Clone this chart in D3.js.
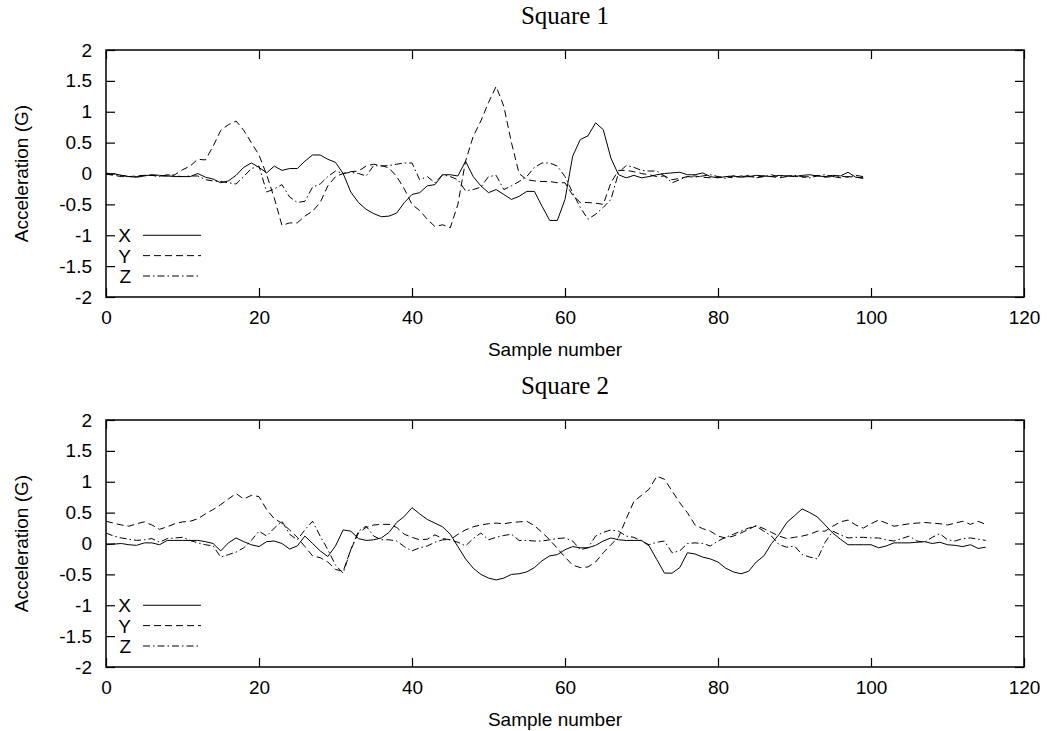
<!DOCTYPE html>
<html>
<head>
<meta charset="utf-8">
<script src="https://cdn.jsdelivr.net/npm/d3@7"></script>
<style>
  body { margin: 0; background: #fff; }
  .tick text { font-family: "Liberation Sans", Arial, sans-serif; font-size: 19px; fill: #000; }
  .tick line { stroke: #000; stroke-width: 1.2; }
  .lbl { font-family: "Liberation Sans", Arial, sans-serif; font-size: 19px; fill: #000; }
  .ttl { font-family: "Liberation Serif", "Times New Roman", serif; font-size: 25px; fill: #000; }
</style>
</head>
<body>
<div id="chart"></div>
<script>
// Square 1 (samples 0..99)
var sq1X = [-0.02, 0.0, -0.03, -0.05, -0.06, -0.04, -0.02, -0.03, -0.04, -0.05,
  -0.05, -0.05, 0.0, -0.06, -0.09, -0.15, -0.12, -0.03, 0.1, 0.17,
  0.1, 0.01, 0.12, 0.05, 0.08, 0.08, 0.2, 0.3, 0.3, 0.23,
  0.18, 0.0, -0.3, -0.47, -0.58, -0.65, -0.7, -0.69, -0.64, -0.47,
  -0.34, -0.31, -0.2, -0.18, -0.02, -0.02, -0.04, 0.2, -0.05, -0.2,
  -0.31, -0.26, -0.34, -0.42, -0.37, -0.29, -0.29, -0.53, -0.76, -0.76,
  -0.42, 0.28, 0.55, 0.61, 0.82, 0.71, 0.25, -0.02, -0.07, -0.03,
  -0.07, -0.05, -0.02, 0.0, 0.01, 0.02, -0.02, -0.02, 0.01, -0.05,
  -0.07, -0.05, -0.04, -0.06, -0.05, -0.03, -0.04, -0.05, -0.03, -0.04,
  -0.05, -0.03, -0.02, -0.04, -0.05, -0.03, -0.04, 0.02, -0.06, -0.07];
var sq1Y = [-0.01, -0.03, -0.05, -0.05, -0.04, -0.03, -0.03, -0.04, -0.04, -0.02,
  0.06, 0.12, 0.23, 0.22, 0.44, 0.7, 0.79, 0.85, 0.7, 0.5,
  0.3, -0.02, -0.4, -0.84, -0.8, -0.8, -0.69, -0.61, -0.47, -0.2,
  -0.05, 0.0, 0.03, 0.04, 0.12, 0.15, 0.13, 0.09, -0.05, -0.25,
  -0.5, -0.6, -0.74, -0.86, -0.83, -0.88, -0.5, 0.2, 0.6, 0.85,
  1.15, 1.41, 1.09, 0.5, 0.0, -0.1, -0.12, -0.13, -0.13, -0.15,
  -0.15, -0.35, -0.47, -0.47, -0.48, -0.5, -0.15, 0.05, 0.05, 0.03,
  0.0, -0.02, -0.05, -0.04, -0.1, -0.08, -0.05, -0.04, -0.06, -0.07,
  -0.06, -0.05, -0.07, -0.04, -0.05, -0.06, -0.04, -0.05, -0.07, -0.05,
  -0.04, -0.06, -0.05, -0.03, -0.06, -0.05, -0.07, -0.05, -0.06, -0.08];
var sq1Z = [0.01, -0.02, -0.03, -0.05, -0.05, -0.03, -0.03, -0.05, -0.02, -0.04,
  -0.05, -0.04, -0.04, -0.1, -0.12, -0.13, -0.15, -0.17, -0.05, 0.08,
  0.12, -0.3, -0.25, -0.18, -0.38, -0.47, -0.45, -0.22, -0.17, -0.05,
  0.04, 0.0, 0.02, 0.0, -0.04, 0.13, 0.12, 0.13, 0.15, 0.17,
  0.17, -0.1, -0.05, -0.15, -0.02, -0.05, -0.1, -0.28, -0.26, -0.22,
  -0.05, -0.03, -0.26, -0.2, -0.13, -0.05, 0.1, 0.17, 0.17, 0.12,
  -0.05, -0.31, -0.55, -0.74, -0.66, -0.55, -0.42, 0.01, 0.13, 0.1,
  0.05, 0.04, 0.04, -0.04, -0.15, -0.1, -0.05, -0.06, -0.04, -0.02,
  -0.05, -0.08, -0.04, -0.06, -0.03, -0.07, -0.05, -0.02, -0.06, -0.04,
  -0.03, -0.05, -0.07, -0.04, -0.02, -0.05, -0.04, -0.06, -0.03, -0.05];

// Square 2 (samples 0..115)
var sq2X = [-0.02, -0.01, 0.0, -0.02, -0.03, 0.01, 0.01, -0.02, 0.05, 0.05,
  0.05, 0.05, 0.05, 0.03, 0.0, -0.12, 0.01, 0.09, 0.03, -0.02,
  -0.05, 0.03, 0.04, 0.0, -0.09, -0.04, 0.12, 0.0, -0.12, -0.21,
  -0.04, 0.22, 0.2, 0.08, 0.05, 0.06, 0.09, 0.18, 0.34, 0.44,
  0.58, 0.48, 0.39, 0.33, 0.27, 0.15, -0.05, -0.25, -0.4, -0.5,
  -0.56, -0.59, -0.56, -0.5, -0.49, -0.46, -0.39, -0.28, -0.2, -0.18,
  -0.1, -0.05, -0.07, -0.07, -0.03, 0.04, 0.09, 0.06, 0.05, 0.05,
  0.05, -0.04, -0.26, -0.48, -0.48, -0.39, -0.15, -0.17, -0.22, -0.25,
  -0.3, -0.4, -0.46, -0.49, -0.45, -0.3, -0.2, 0.0, 0.15, 0.34,
  0.45, 0.56, 0.5, 0.43, 0.3, 0.17, 0.07, -0.02, -0.02, -0.02,
  -0.02, -0.07, -0.04, 0.01, 0.01, 0.01, 0.02, 0.03, 0.0, 0.02,
  -0.02, -0.03, -0.05, -0.02, -0.08, -0.06];
var sq2Y = [0.36, 0.33, 0.3, 0.28, 0.32, 0.35, 0.3, 0.23, 0.27, 0.32,
  0.35, 0.36, 0.4, 0.48, 0.55, 0.63, 0.72, 0.81, 0.72, 0.78,
  0.76, 0.55, 0.4, 0.33, 0.22, 0.1, -0.05, -0.2, -0.23, -0.3,
  -0.42, -0.45, -0.1, 0.17, 0.26, 0.3, 0.31, 0.31, 0.26, 0.15,
  0.1, 0.06, 0.07, 0.14, 0.08, 0.06, 0.15, 0.22, 0.27, 0.3,
  0.32, 0.33, 0.32, 0.34, 0.35, 0.36, 0.29, 0.18, 0.06, -0.08,
  -0.22, -0.35, -0.39, -0.38, -0.3, -0.15, -0.02, 0.1, 0.4, 0.68,
  0.78, 0.88, 1.09, 1.04, 0.85, 0.66, 0.5, 0.3, 0.24, 0.2,
  0.12, 0.09, 0.12, 0.17, 0.23, 0.29, 0.24, 0.18, 0.12, 0.08,
  0.1, 0.12, 0.15, 0.2, 0.2, 0.28, 0.35, 0.38, 0.3, 0.25,
  0.32, 0.38, 0.33, 0.28, 0.3, 0.32, 0.33, 0.34, 0.33, 0.32,
  0.3, 0.33, 0.36, 0.31, 0.36, 0.31];
var sq2Z = [0.17, 0.12, 0.09, 0.07, 0.05, 0.06, 0.08, 0.02, 0.08, 0.09,
  0.1, 0.05, 0.01, -0.02, -0.04, -0.22, -0.18, -0.14, -0.07, 0.05,
  0.2, 0.12, 0.25, 0.36, 0.15, 0.06, 0.22, 0.36, 0.12, -0.1,
  -0.35, -0.48, -0.1, 0.2, 0.28, 0.12, 0.06, 0.06, 0.04, -0.05,
  -0.12, -0.07, -0.04, 0.02, 0.06, 0.06, 0.02, -0.04, 0.08, 0.17,
  0.06, 0.1, 0.13, 0.15, 0.05, 0.05, 0.04, 0.04, 0.06, 0.08,
  0.09, 0.04, -0.1, -0.07, 0.12, 0.18, 0.22, 0.2, 0.12, 0.1,
  0.04, -0.02, 0.02, 0.04, -0.15, -0.12, 0.0, 0.01, 0.0, -0.04,
  0.04, 0.1, 0.15, 0.2, 0.25, 0.28, 0.2, 0.12, -0.02, -0.06,
  -0.04, -0.18, -0.22, -0.25, 0.02, 0.2, 0.14, 0.09, 0.1, 0.1,
  0.09, 0.09, 0.06, 0.04, 0.08, 0.12, 0.04, 0.02, 0.1, 0.16,
  0.06, 0.04, 0.08, 0.09, 0.07, 0.05];

var xTicks = [0, 20, 40, 60, 80, 100, 120];
var yTicks = [-2, -1.5, -1, -0.5, 0, 0.5, 1, 1.5, 2];
var seriesNames = ["X", "Y", "Z"];
var dashes = [null, "7,4", "7,3,1.5,3"];

var width = 1051, height = 731;
var left = 106, right = 1024;

var svg = d3.select("#chart").append("svg")
  .attr("width", width)
  .attr("height", height);

function drawPanel(top, bottom, title, data) {
  var x = d3.scaleLinear().domain([0, 120]).range([left, right]);
  var y = d3.scaleLinear().domain([-2, 2]).range([bottom, top]);
  var g = svg.append("g");

  // axes, ticks pointing inward on every side
  g.append("g").attr("transform", "translate(" + left + ",0)")
    .call(d3.axisLeft(y).tickValues(yTicks).tickSize(-9).tickPadding(14).tickFormat(function(d) { return String(d); }));
  g.append("g").attr("transform", "translate(" + right + ",0)")
    .call(d3.axisRight(y).tickValues(yTicks).tickSize(-9).tickFormat(""));
  g.append("g").attr("transform", "translate(0," + bottom + ")")
    .call(d3.axisBottom(x).tickValues(xTicks).tickSize(-9).tickPadding(14).tickFormat(function(d) { return String(d); }));
  g.append("g").attr("transform", "translate(0," + top + ")")
    .call(d3.axisTop(x).tickValues(xTicks).tickSize(-9).tickFormat(""));
  g.selectAll(".domain").remove();
  g.selectAll(".tick text").attr("fill", "#000");

  var line = d3.line()
    .x(function(d, i) { return x(i); })
    .y(function(d) { return y(d); });

  data.forEach(function(s, k) {
    g.append("path")
      .datum(s)
      .attr("d", line)
      .attr("fill", "none")
      .attr("stroke", "#000")
      .attr("stroke-width", 1)
      .attr("stroke-dasharray", dashes[k]);
  });

  // frame
  g.append("rect")
    .attr("x", left).attr("y", top)
    .attr("width", right - left).attr("height", bottom - top)
    .attr("fill", "none").attr("stroke", "#000").attr("stroke-width", 1.5);

  // legend
  seriesNames.forEach(function(n, k) {
    var ly = y(-1 - 0.33 * k);
    g.append("text").attr("class", "lbl")
      .attr("x", 131).attr("y", ly + 7)
      .attr("text-anchor", "end").text(n);
    g.append("line")
      .attr("x1", 143).attr("x2", 201).attr("y1", ly).attr("y2", ly)
      .attr("stroke", "#000").attr("stroke-width", 1)
      .attr("stroke-dasharray", dashes[k]);
  });

  g.append("text").attr("class", "ttl")
    .attr("x", (left + right) / 2).attr("y", top - 26)
    .attr("text-anchor", "middle").text(title);
  g.append("text").attr("class", "lbl")
    .attr("x", (left + right) / 2 - 10).attr("y", bottom + 59)
    .attr("text-anchor", "middle").text("Sample number");
  g.append("text").attr("class", "lbl")
    .attr("transform", "translate(28," + (top + bottom) / 2 + ")rotate(-90)")
    .attr("text-anchor", "middle").text("Acceleration (G)");
}

drawPanel(50, 297, "Square 1", [sq1X, sq1Y, sq1Z]);
drawPanel(420, 667, "Square 2", [sq2X, sq2Y, sq2Z]);
</script>
</body>
</html>
